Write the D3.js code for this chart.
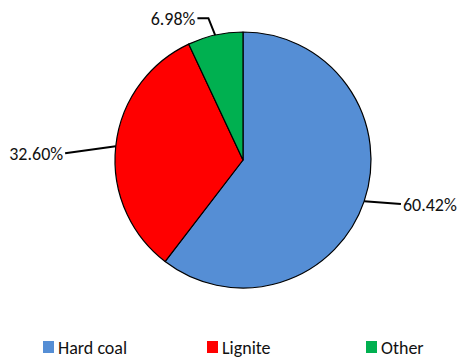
<!DOCTYPE html>
<html>
<head>
<meta charset="utf-8">
<script src="https://cdn.jsdelivr.net/npm/d3@7"></script>
<style>
  html, body { margin: 0; padding: 0; background: #fff; }
  svg { display: block; font-family: Carlito, Calibri, Lato, "Open Sans", sans-serif; }
</style>
</head>
<body>
<svg id="chart" width="460" height="358"></svg>
<script>
// Fuel shares
const categories = ["Hard coal", "Lignite", "Other"];
const shares = [60.42, 32.60, 6.98];
const labels = ["60.42%", "32.60%", "6.98%"];
const colors = ["#558ED5", "#FF0000", "#00B050"];

const svg = d3.select("#chart");
const cx = 243, cy = 160, R = 128;
const fontSize = 18;

const pie = d3.pie().sort(null).value(d => d)(shares);
const arc = d3.arc().innerRadius(0).outerRadius(R);

const g = svg.append("g").attr("transform", `translate(${cx},${cy})`);

g.selectAll("path.slice")
  .data(pie)
  .join("path")
  .attr("class", "slice")
  .attr("d", arc)
  .attr("fill", (d, i) => colors[i])
  .attr("stroke", "#000")
  .attr("stroke-width", 1.2)
  .attr("stroke-linejoin", "round");

// leader-line layout per slice: elbow radius/angle shift, horizontal run, text side
const leader = [
  { dr: 36, da: -0.055, run: 0,  side: "start" },
  { dr: 50, da: -0.07,  run: 0,  side: "end" },
  { dr: 18, da: -0.02,  run: 11, side: "end" }
];

function polar(a, r) { return [Math.sin(a) * r, -Math.cos(a) * r]; }

pie.forEach((d, i) => {
  const mid = (d.startAngle + d.endAngle) / 2;
  const L = leader[i];
  const p0 = polar(mid, R);
  const p1 = polar(mid + L.da, R + L.dr);
  const dir = L.side === "start" ? 1 : -1;
  const pts = [p0, p1];
  if (L.run) pts.push([p1[0] + dir * L.run, p1[1]]);
  const end = pts[pts.length - 1];
  g.append("path")
    .attr("d", d3.line()(pts))
    .attr("fill", "none")
    .attr("stroke", "#000")
    .attr("stroke-width", 2);
  g.append("text")
    .attr("x", end[0] + dir * 2)
    .attr("y", end[1] + 5)
    .attr("dy", "0.1em")
    .attr("text-anchor", L.side)
    .attr("font-size", fontSize)
    .attr("fill", "#111")
    .text(labels[i]);
});

// legend
const legendX = [43, 207, 366];
const lg = svg.append("g");
const item = lg.selectAll("g").data(categories).join("g")
  .attr("transform", (d, i) => `translate(${legendX[i]},341)`);
item.append("rect").attr("width", 11).attr("height", 12)
  .attr("fill", (d, i) => colors[i]);
item.append("text").attr("x", 15).attr("y", 12.5)
  .attr("font-size", fontSize).attr("fill", "#111")
  .text(d => d);
</script>
</body>
</html>
